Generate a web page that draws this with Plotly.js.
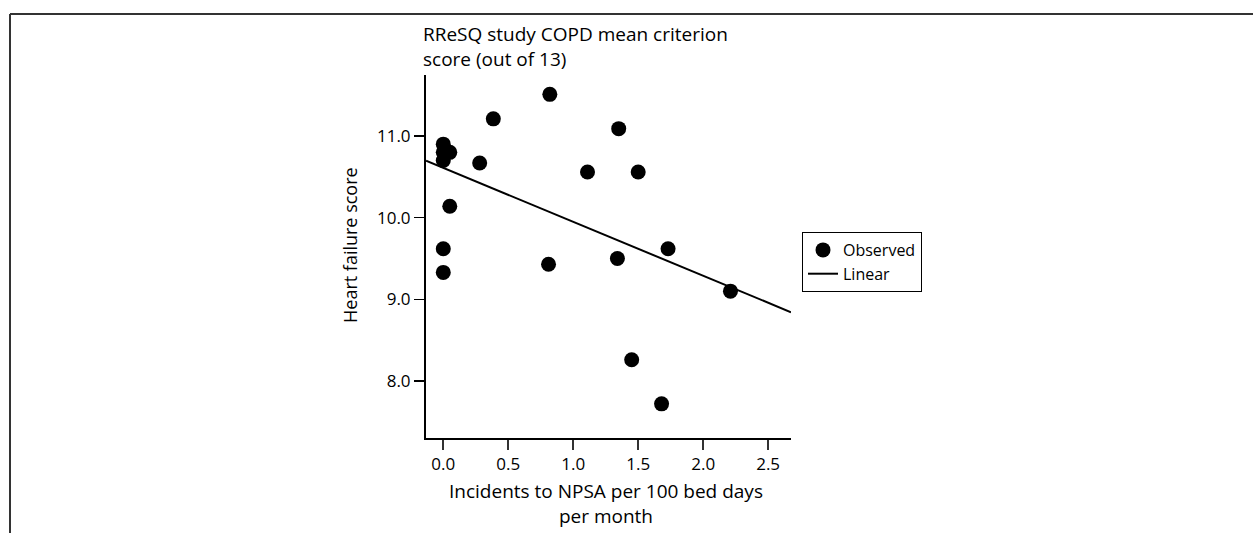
<!DOCTYPE html>
<html>
<head>
<meta charset="utf-8">
<script src="https://cdn.plot.ly/plotly-3.0.1.min.js"></script>
<style>
html,body{margin:0;padding:0;background:#fff;}
#chart{width:1253px;height:533px;}
</style>
</head>
<body>
<div id="chart"></div>
<script>
// Observed points: incidents to NPSA per 100 bed days per month vs heart failure score
const incidentsX = [0.00, 0.00, 0.05, 0.00, 0.385, 0.82, 1.35, 0.28, 1.11, 1.50, 0.05, 0.00, 0.00, 0.81, 1.34, 1.73, 2.21, 1.45, 1.68];
const heartScoreY = [10.90, 10.80, 10.80, 10.70, 11.21, 11.51, 11.09, 10.67, 10.56, 10.56, 10.14, 9.62, 9.33, 9.43, 9.50, 9.62, 9.10, 8.26, 7.72];
// Linear fit line endpoints
const linearX = [-0.133, 2.676];
const linearY = [10.698, 8.842];
const xTicks = [0.0, 0.5, 1.0, 1.5, 2.0, 2.5];
const xTickLabels = ['0.0', '0.5', '1.0', '1.5', '2.0', '2.5'];
const yTicks = [8.0, 9.0, 10.0, 11.0];
const yTickLabels = ['8.0', '9.0', '10.0', '11.0'];

const FONT = '"Open Sans", Lato, sans-serif';
const L = 426, R = 791, T = 75, B = 438, W = 1253, H = 533;
const px = v => (v - L) / (R - L);
const py = v => (B - v) / (B - T);

const traces = [
  {
    x: incidentsX, y: heartScoreY, mode: 'markers', type: 'scatter', name: 'Observed',
    marker: {color: '#000', size: 15, line: {width: 0}},
    cliponaxis: false
  },
  {
    x: linearX, y: linearY, mode: 'lines', type: 'scatter', name: 'Linear',
    line: {color: '#000', width: 2}
  }
];

const layout = {
  width: W, height: H,
  margin: {l: L, r: W - R, t: T, b: H - B, pad: 0},
  paper_bgcolor: '#fff', plot_bgcolor: '#fff',
  font: {family: FONT, size: 17, color: '#000'},
  showlegend: true,
  legend: {
    x: px(802), y: py(232), xanchor: 'left', yanchor: 'top',
    bordercolor: '#000', borderwidth: 1, bgcolor: '#fff',
    font: {family: FONT, size: 16, color: '#000'},
    tracegroupgap: 0, itemwidth: 30
  },
  xaxis: {
    range: [-0.133, 2.676], showgrid: false, zeroline: false,
    showline: true, linecolor: '#000', linewidth: 2,
    ticks: 'outside', ticklen: 10, tickwidth: 2, tickcolor: '#333',
    tickvals: xTicks, ticktext: xTickLabels,
    tickfont: {family: FONT, size: 17, color: '#000'}
  },
  yaxis: {
    range: [7.302, 11.747], showgrid: false, zeroline: false,
    showline: true, linecolor: '#000', linewidth: 2,
    ticks: 'outside', ticklen: 10, tickwidth: 1.5, tickcolor: '#000',
    tickvals: yTicks, ticktext: yTickLabels,
    tickfont: {family: FONT, size: 17, color: '#000'}
  },
  annotations: [
    {xref: 'paper', yref: 'paper', x: px(421), y: py(19), xanchor: 'left', yanchor: 'top',
     text: 'RReSQ study COPD mean criterion<br>score (out of 13)', showarrow: false, align: 'left',
     font: {family: FONT, size: 19, color: '#000'}},
    {xref: 'paper', yref: 'paper', x: px(606), y: py(476), xanchor: 'center', yanchor: 'top',
     text: 'Incidents to NPSA per 100 bed days<br>per month', showarrow: false, align: 'center',
     font: {family: FONT, size: 19, color: '#000'}},
    {xref: 'paper', yref: 'paper', x: px(350), y: py(245), xanchor: 'center', yanchor: 'middle',
     text: 'Heart failure score', textangle: -90, showarrow: false,
     font: {family: FONT, size: 18, color: '#000'}}
  ],
  shapes: [
    {type: 'line', xref: 'paper', yref: 'paper', x0: px(10), x1: px(1253), y0: py(14), y1: py(14),
     line: {color: '#333', width: 2}},
    {type: 'line', xref: 'paper', yref: 'paper', x0: px(10), x1: px(10), y0: py(14), y1: py(533),
     line: {color: '#333', width: 2}}
  ]
};

Plotly.newPlot('chart', traces, layout, {displayModeBar: false, staticPlot: true});
</script>
</body>
</html>
